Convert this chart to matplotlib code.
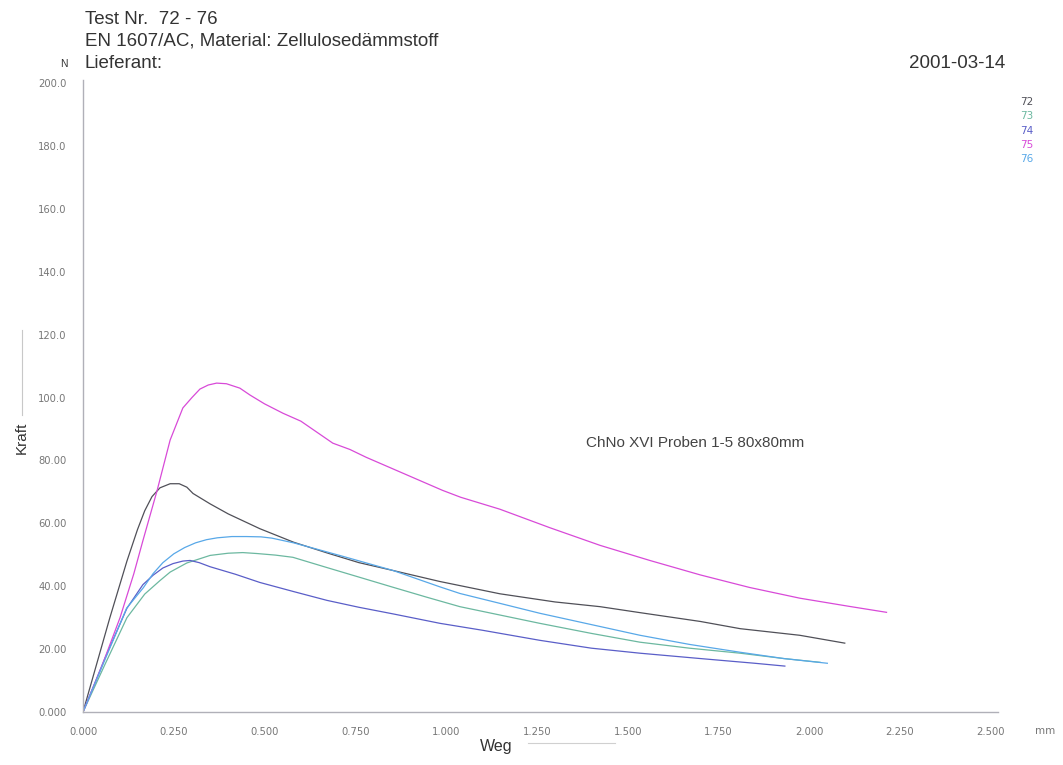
import matplotlib
matplotlib.use("Agg")
import matplotlib.pyplot as plt
from matplotlib.lines import Line2D

# ---------------- data ----------------
series_names = ["72", "73", "74", "75", "76"]

x72 = [0, 0.074, 0.121, 0.15, 0.17, 0.19, 0.212, 0.24, 0.265, 0.286, 0.303, 0.35, 0.4, 0.487, 0.58, 0.672,
       0.76, 0.854, 0.983, 1.148, 1.3, 1.424, 1.534, 1.7, 1.81, 1.974, 2.098]
y72 = [0, 30, 48, 58, 64, 68.5, 71.3, 72.6, 72.6, 71.5, 69.5, 66.2, 63, 58.3, 54, 50.6,
       47.5, 45, 41.5, 37.6, 35, 33.5, 31.6, 28.8, 26.5, 24.4, 21.9]

x73 = [0, 0.06, 0.121, 0.17, 0.212, 0.24, 0.286, 0.35, 0.4, 0.44, 0.479, 0.53, 0.578, 0.67, 0.763, 0.85,
       0.947, 1.038, 1.15, 1.258, 1.4, 1.534, 1.67, 1.81, 1.93, 2.03]
y73 = [0, 15, 30, 37.5, 41.8, 44.5, 47.4, 49.8, 50.5, 50.7, 50.4, 49.9, 49.2, 46, 42.8, 39.8,
       36.5, 33.5, 30.8, 28.2, 25, 22.2, 20.3, 18.7, 17, 15.8]

x74 = [0, 0.06, 0.121, 0.165, 0.193, 0.22, 0.248, 0.275, 0.295, 0.32, 0.35, 0.42, 0.487, 0.58, 0.672, 0.76,
       0.854, 0.983, 1.1, 1.258, 1.4, 1.534, 1.7, 1.85, 1.933]
y74 = [0, 17, 33, 40.5, 43.5, 45.8, 47.2, 48, 48.2, 47.5, 46.2, 43.8, 41.2, 38.3, 35.5, 33.3,
       31.2, 28.2, 26, 22.8, 20.3, 18.7, 17, 15.5, 14.6]

x75 = [0, 0.05, 0.102, 0.14, 0.165, 0.204, 0.24, 0.275, 0.3, 0.322, 0.345, 0.368, 0.395, 0.432, 0.46, 0.5,
       0.551, 0.6, 0.688, 0.735, 0.78, 0.85, 0.92, 0.99, 1.04, 1.148, 1.286, 1.424, 1.561, 1.70, 1.836,
       1.974, 2.11, 2.213]
y75 = [0, 14, 30, 44, 54.5, 70.4, 86.5, 96.7, 100, 102.7, 104, 104.6, 104.4, 103, 100.8, 98,
       95, 92.5, 85.5, 83.5, 81, 77.5, 74, 70.5, 68.3, 64.5, 58.6, 53, 48.2, 43.6, 39.6,
       36.2, 33.6, 31.7]

x76 = [0, 0.06, 0.12, 0.166, 0.193, 0.22, 0.25, 0.28, 0.31, 0.34, 0.37, 0.41, 0.45, 0.49, 0.52, 0.58,
       0.65, 0.716, 0.854, 0.983, 1.038, 1.15, 1.258, 1.4, 1.534, 1.67, 1.81, 1.93, 2.05]
y76 = [0, 16.5, 33, 39.5, 44, 47.5, 50.3, 52.3, 53.8, 54.8, 55.4, 55.8, 55.8, 55.7, 55.3, 53.8,
       51.6, 49.5, 45, 39.8, 37.7, 34.5, 31.4, 27.8, 24.4, 21.5, 19, 17, 15.5]

x_ticks = [0, 0.25, 0.5, 0.75, 1.0, 1.25, 1.5, 1.75, 2.0, 2.25, 2.5]
x_ticklabels = ["0.000", "0.250", "0.500", "0.750", "1.000", "1.250", "1.500", "1.750", "2.000", "2.250", "2.500"]
y_ticks = [0, 20, 40, 60, 80, 100, 120, 140, 160, 180, 200]
y_ticklabels = ["0.000", "20.00", "40.00", "60.00", "80.00", "100.0", "120.0", "140.0", "160.0", "180.0", "200.0"]

colors = ["#505058", "#6cb8a0", "#5a5ec8", "#d84ad8", "#58a8e8"]

# ---------------- figure ----------------
plt.rcParams['font.family'] = ['Liberation Sans', 'DejaVu Sans']
fig = plt.figure(figsize=(10.63, 7.65), dpi=100)
W, H = 1063, 765
ax = fig.add_axes([83 / W, (H - 712) / H, 915 / W, 632 / H])

data = [(x72, y72), (x73, y73), (x74, y74), (x75, y75), (x76, y76)]
for (xs, ys), c in zip(data, colors):
    ax.plot(xs, ys, color=c, lw=0.9, solid_joinstyle="round")

ax.set_xlim(0, 2.52)
ax.set_ylim(0, 201)
ax.set_xticks(x_ticks)
ax.set_xticklabels(x_ticklabels, family=["DejaVu Sans"])
ax.set_yticks(y_ticks)
ax.set_yticklabels(y_ticklabels, family=["DejaVu Sans"])
ax.tick_params(length=0, labelsize=7.2, labelcolor="#777777")
ax.tick_params(axis='y', pad=12)
ax.tick_params(axis='x', pad=11)
for s in ["top", "right"]:
    ax.spines[s].set_visible(False)
for s in ["left", "bottom"]:
    ax.spines[s].set_color("#b0b0b8")
    ax.spines[s].set_linewidth(1.0)

# header texts
hdr = dict(fontsize=13.5, color="#333333", va="center")
fig.text(85 / W, 1 - 20 / H, "Test Nr.  72 - 76", **hdr)
fig.text(85 / W, 1 - 41.5 / H, "EN 1607/AC, Material: Zellulosedämmstoff", **hdr)
fig.text(85 / W, 1 - 63 / H, "Lieferant:", **hdr)
fig.text(64 / W, 1 - 64 / H, "N", fontsize=7.5, color="#333333", va="center", ha="center")
fig.text(1005 / W, 1 - 63 / H, "2001-03-14", fontsize=13.5, color="#333333", va="center", ha="right")
fig.text(1045 / W, 1 - 731 / H, "mm", fontsize=7.5, color="#777777", va="center", ha="center",
         family=["DejaVu Sans"])

# legend-like labels on the right
for i, (name, c) in enumerate(zip(series_names, colors)):
    fig.text(1027 / W, 1 - (102 + i * 14.3) / H, name, fontsize=7.5, color=c, va="center", ha="center",
             family=["DejaVu Sans"])

# axis labels with their thin indicator lines
fig.text(22 / W, 1 - 438 / H, "Kraft", fontsize=11, rotation=90, color="#333333", va="center", ha="center")
fig.add_artist(Line2D([22 / W, 22 / W], [1 - 415 / H, 1 - 330 / H], color="#c8c8c8", lw=0.8))
fig.text(496 / W, 1 - 746 / H, "Weg", fontsize=11.5, color="#333333", va="center", ha="center")
fig.add_artist(Line2D([528 / W, 615 / W], [1 - 743 / H, 1 - 743 / H], color="#d0d0d0", lw=0.8))

ax.annotate("ChNo XVI Proben 1-5 80x80mm", xy=(586 / W, 1 - 443 / H), xycoords="figure fraction",
            fontsize=11, color="#444444", va="center", ha="left")

fig.savefig("out.png", dpi=100, facecolor="white")
